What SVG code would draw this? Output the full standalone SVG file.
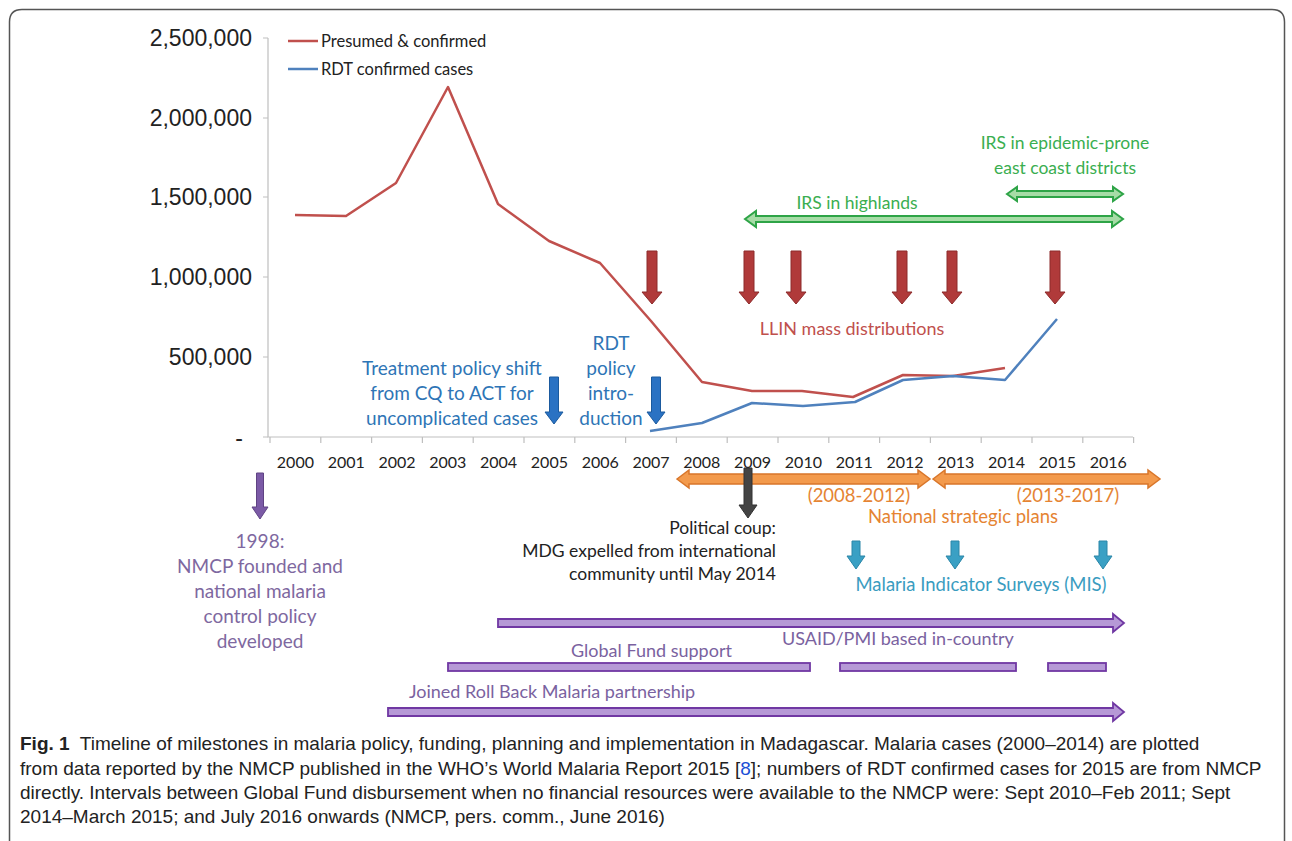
<svg xmlns="http://www.w3.org/2000/svg" width="1292" height="841" viewBox="0 0 1292 841">
<defs>
<style>
.t{font-family:Lato,"Open Sans","Liberation Sans",sans-serif}
.yl{font-family:"Liberation Sans",Arial,sans-serif;font-size:23px;fill:#222;text-anchor:end}
.yr{font-size:16px;fill:#222;text-anchor:middle}
.lg{font-size:16.5px;fill:#222}
.blue{fill:#2e75b6;font-size:19px;text-anchor:middle}
.red{fill:#c0504d;font-size:18px;text-anchor:middle}
.green{fill:#3aae50;font-size:17.5px;text-anchor:middle}
.orange{fill:#e58433;font-size:18.5px;text-anchor:middle}
.purple{fill:#7e68a0;font-size:19px;text-anchor:middle}
.purp2{fill:#7a62a0;font-size:18px}
.teal{fill:#3a9cbf;font-size:18.5px;text-anchor:middle}
.black{fill:#222;font-size:17.5px;text-anchor:end}
.cap{font-family:"Liberation Sans",Arial,sans-serif;font-size:19px;fill:#222}
.axis{stroke:#bfbfbf;stroke-width:1.2;fill:none}
.llin{fill:#b03a3a;stroke:#8c2a2a;stroke-width:1}
.bl{fill:#2a72c3;stroke:#1b5a9e;stroke-width:1}
.tl{fill:#3aa0c4;stroke:#2a86a8;stroke-width:1}
.gy{fill:#444;stroke:#333;stroke-width:1}
.pu{fill:#7b5aa6;stroke:#5f4383;stroke-width:1}
.gr{fill:#a6dca6;stroke:#2ea447;stroke-width:2}
.or{fill:#f39a4c;stroke:#d9762a;stroke-width:1.5}
.pb{fill:#b699d6;stroke:#7038a3;stroke-width:1.8}
</style>
<path id="aLLIN" d="M-5,0 H5 V41 H10 L0,53 L-10,41 H-5 Z"/>
<path id="aBlue" d="M-4.5,0 H4.5 V35 H9 L0,47 L-9,35 H-4.5 Z"/>
<path id="aTeal" d="M-4,0 H4 V15 H9 L0,28 L-9,15 H-4 Z"/>
</defs>
<rect width="1292" height="841" fill="#fff"/>
<path d="M9.5,841 V22 Q9.5,9.5 22,9.5 H1272 Q1284.5,9.5 1284.5,22 V841" fill="none" stroke="#555" stroke-width="1.5"/>

<g id="axes">
<path class="axis" d="M268,38 V437 H1133"/>
<path class="axis" d="M263,38H268M263,118H268M263,197H268M263,277H268M263,357H268M263,437H268"/>
<path class="axis" d="M270,437v6M320.8,437v6M371.6,437v6M422.4,437v6M473.2,437v6M524,437v6M574.8,437v6M625.6,437v6M676.4,437v6M727.2,437v6M778,437v6M828.8,437v6M879.6,437v6M930.4,437v6M981.2,437v6M1032,437v6M1082.8,437v6M1133.6,437v6"/>
<text class="yl" x="252" y="46">2,500,000</text>
<text class="yl" x="252" y="126">2,000,000</text>
<text class="yl" x="252" y="205">1,500,000</text>
<text class="yl" x="252" y="285">1,000,000</text>
<text class="yl" x="252" y="365">500,000</text>
<text class="yl" x="243" y="446">-</text>
<g class="t yr">
<text x="295.4" y="468">2000</text><text x="346.2" y="468">2001</text><text x="397" y="468">2002</text><text x="447.8" y="468">2003</text><text x="498.6" y="468">2004</text><text x="549.4" y="468">2005</text><text x="600.2" y="468">2006</text><text x="651" y="468">2007</text><text x="701.8" y="468">2008</text><text x="752.6" y="468">2009</text><text x="803.4" y="468">2010</text><text x="854.2" y="468">2011</text><text x="905" y="468">2012</text><text x="955.8" y="468">2013</text><text x="1006.6" y="468">2014</text><text x="1057.4" y="468">2015</text><text x="1108.2" y="468">2016</text>
</g>
</g>

<g id="legend">
<line x1="288" y1="41" x2="318" y2="41" stroke="#c0504d" stroke-width="2.5"/>
<line x1="288" y1="69" x2="318" y2="69" stroke="#4f81bd" stroke-width="2.5"/>
<text class="t lg" x="321" y="47">Presumed &amp; confirmed</text>
<text class="t lg" x="321" y="75">RDT confirmed cases</text>
</g>

<g id="series">
<polyline fill="none" stroke="#c0504d" stroke-width="2.5" stroke-linejoin="round" points="295,215 346,216 396,183 448,87 498,204 549,241 600,263 651,321 702,382 752,391 802,391 853,397 903,375 953,376 1005,368"/>
<polyline fill="none" stroke="#4f81bd" stroke-width="2.5" stroke-linejoin="round" points="650,431 702,423 752,403 803,406 855,402 903,380 953,376 1005,380 1057,319"/>
</g>

<g id="irs-highlands">
<path class="gr" d="M745,219 L756,211 V216 H1112 V211 L1123,219 L1112,227 V222 H756 V227 Z"/>
<text class="t green" x="857" y="209">IRS in highlands</text>
</g>
<g id="irs-eastcoast">
<path class="gr" d="M1007,194 L1017,187 V191 H1113 V187 L1123,194 L1113,201 V197 H1017 V201 Z"/>
<text class="t green" x="1065" y="149">IRS in epidemic-prone</text>
<text class="t green" x="1065" y="174">east coast districts</text>
</g>

<g id="llin">
<use href="#aLLIN" class="llin" transform="translate(652,251)"/>
<use href="#aLLIN" class="llin" transform="translate(749,251)"/>
<use href="#aLLIN" class="llin" transform="translate(796,251)"/>
<use href="#aLLIN" class="llin" transform="translate(902,251)"/>
<use href="#aLLIN" class="llin" transform="translate(952,251)"/>
<use href="#aLLIN" class="llin" transform="translate(1055,251)"/>
<text class="t red" x="852" y="335">LLIN mass distributions</text>
</g>

<g id="treatment">
<use href="#aBlue" class="bl" transform="translate(554,377)"/>
<text class="t blue" x="452" y="375">Treatment policy shift</text>
<text class="t blue" x="452" y="400">from CQ to ACT for</text>
<text class="t blue" x="452" y="425">uncomplicated cases</text>
</g>
<g id="rdt">
<use href="#aBlue" class="bl" transform="translate(656,377)"/>
<text class="t blue" x="611" y="350">RDT</text>
<text class="t blue" x="611" y="375">policy</text>
<text class="t blue" x="611" y="400">intro-</text>
<text class="t blue" x="611" y="425">duction</text>
</g>

<g id="nsp">
<path class="or" d="M677,479 L689,470 V474 H918 V470 L930,479 L918,488 V484 H689 V488 Z"/>
<path class="or" d="M933,479 L945,470 V474 H1148 V470 L1160,479 L1148,488 V484 H945 V488 Z"/>
<text class="t orange" x="859" y="502">(2008-2012)</text>
<text class="t orange" x="1068" y="502">(2013-2017)</text>
<text class="t orange" x="963" y="523">National strategic plans</text>
</g>

<g id="coup">
<path class="gy" d="M744,468 H752 V505 H757 L748,518 L739,505 H744 Z"/>
<text class="t black" x="776" y="534">Political coup:</text>
<text class="t black" x="776" y="557">MDG expelled from international</text>
<text class="t black" x="776" y="580">community until May 2014</text>
</g>

<g id="nmcp">
<path class="pu" d="M256.5,473 H263.5 V507 H268 L260,519 L252,507 H256.5 Z"/>
<text class="t purple" x="260" y="548">1998:</text>
<text class="t purple" x="260" y="573">NMCP founded and</text>
<text class="t purple" x="260" y="598">national malaria</text>
<text class="t purple" x="260" y="623">control policy</text>
<text class="t purple" x="260" y="648">developed</text>
</g>

<g id="mis">
<use href="#aTeal" class="tl" transform="translate(856,541)"/>
<use href="#aTeal" class="tl" transform="translate(955,541)"/>
<use href="#aTeal" class="tl" transform="translate(1103,541)"/>
<text class="t teal" x="981" y="591">Malaria Indicator Surveys (MIS)</text>
</g>

<g id="usaid">
<path class="pb" d="M498,619 H1113 V614 L1124,623 L1113,632 V627 H498 Z"/>
<text class="t purp2" x="782" y="645">USAID/PMI based in-country</text>
</g>
<g id="globalfund">
<rect class="pb" x="448" y="663" width="362" height="8"/>
<rect class="pb" x="840" y="663" width="176" height="8"/>
<rect class="pb" x="1048" y="663" width="58" height="8"/>
<text class="t purp2" x="571" y="657">Global Fund support</text>
</g>
<g id="rbm">
<path class="pb" d="M388,708 H1113 V703 L1124,712 L1113,721 V716 H388 Z"/>
<text class="t purp2" x="409" y="698">Joined Roll Back Malaria partnership</text>
</g>

<g id="caption">
<text class="cap" x="20" y="750"><tspan font-weight="bold">Fig. 1</tspan>&#160; Timeline of milestones in malaria policy, funding, planning and implementation in Madagascar. Malaria cases (2000–2014) are plotted</text>
<text class="cap" x="20" y="775">from data reported by the NMCP published in the WHO’s World Malaria Report 2015 [<tspan fill="#1a4fd6">8</tspan>]; numbers of RDT confirmed cases for 2015 are from NMCP</text>
<text class="cap" x="20" y="799">directly. Intervals between Global Fund disbursement when no financial resources were available to the NMCP were: Sept 2010–Feb 2011; Sept</text>
<text class="cap" x="20" y="823">2014–March 2015; and July 2016 onwards (NMCP, pers. comm., June 2016)</text>
</g>
</svg>
